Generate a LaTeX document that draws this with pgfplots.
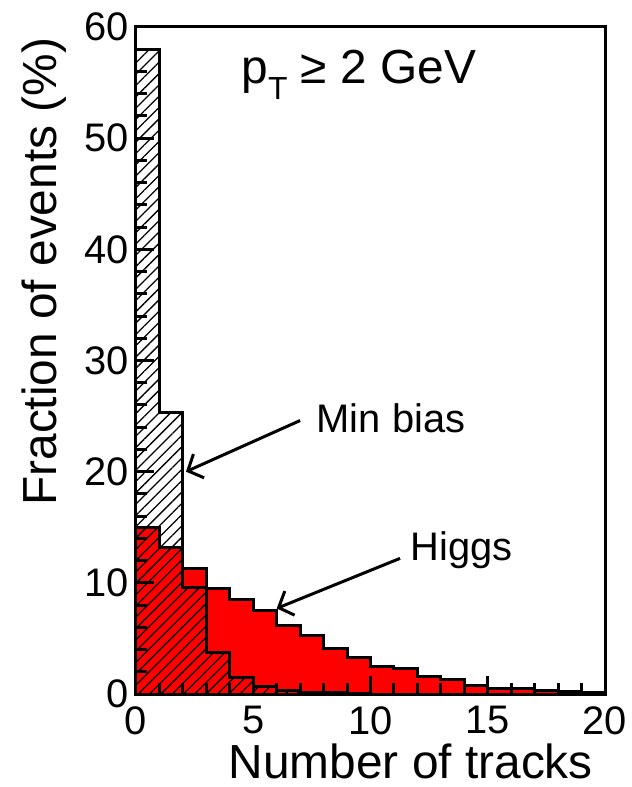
\documentclass[border=0pt]{standalone}
\usepackage{fontspec}
\setmainfont{Liberation Sans}
\usepackage{pgfplots}
\pgfplotsset{compat=1.18}
\usetikzlibrary{patterns.meta,arrows.meta}
\begin{document}
\begin{tikzpicture}
\begin{axis}[
 width=469bp, height=667bp, scale only axis,
 xmin=0, xmax=20, ymin=0, ymax=60,
 axis line style={line width=3bp},
 xtick={0,5,...,20}, ytick={0,10,...,60},
 minor x tick num=4, minor y tick num=4,
 tick align=inside, xtick pos=bottom, ytick pos=left,
 major tick length=18bp, minor tick length=11bp,
 tick style={line width=3bp, black},
 tick label style={font=\fontsize{40}{40}\selectfont, inner sep=0pt},
 yticklabel style={xshift=-7bp},
 xticklabel style={yshift=-12bp},
 /pgf/number format/assume math mode=true,
 xlabel={Number of tracks}, ylabel={Fraction of events (\%)},
 label style={font=\fontsize{48}{48}\selectfont, inner sep=0pt},
 xlabel style={at={(axis description cs:0.586,-0.074)}, anchor=north},
 ylabel style={at={(axis description cs:-0.196,0.633)}, anchor=center, rotate=0},
 axis on top,
 clip=false,
]
\addplot[const plot, fill=red, draw=black, line width=3bp] coordinates {
 (0,15.0) (1,13.2) (2,11.3) (3,9.5) (4,8.5) (5,7.5) (6,6.2) (7,5.3) (8,4.1) (9,3.3)
 (10,2.5) (11,2.3) (12,1.6) (13,1.3) (14,0.8) (15,0.5) (16,0.45) (17,0.3) (18,0.2) (19,0.15) (20,0.15)
} \closedcycle;
\addplot[const plot, draw=black, line width=3bp, pattern={Lines[angle=45,distance=8bp,line width=1.3bp]}] coordinates {
 (0,58) (1,25.3) (2,9.6) (3,3.7) (4,1.5) (5,0.7) (6,0.3) (7,0.15) (8,0.1) (9,0.05)
 (10,0) (11,0) (12,0) (13,0) (14,0) (15,0) (16,0) (17,0) (18,0) (19,0) (20,0)
} \closedcycle;
\node[font=\fontsize{48}{48}\selectfont] at (axis cs:9.5,55.7) {p\raisebox{-0.32em}{\fontsize{32}{32}\selectfont T} ≥ 2 GeV};
\node[font=\fontsize{40}{40}\selectfont, anchor=west, inner sep=0pt] at (axis cs:7.7,24.8) {Min bias};
\node[font=\fontsize{40}{40}\selectfont, anchor=west, inner sep=0pt] at (axis cs:11.7,12.95) {Higgs};
\draw[line width=3bp, -{Straight Barb[length=12bp,width=26bp,line width=3bp]}] (axis cs:7.0,24.6) -- (axis cs:2.13,20.0);
\draw[line width=3bp, -{Straight Barb[length=12bp,width=26bp,line width=3bp]}] (axis cs:11.26,12.2) -- (axis cs:6.0,7.7);
\coordinate (bbsw) at (rel axis cs:0,0);
\coordinate (bbne) at (rel axis cs:1,1);
\end{axis}
\path[use as bounding box] ([shift={(-136bp,-93bp)}]bbsw) rectangle ([shift={(27bp,27bp)}]bbne);
\end{tikzpicture}
\end{document}
